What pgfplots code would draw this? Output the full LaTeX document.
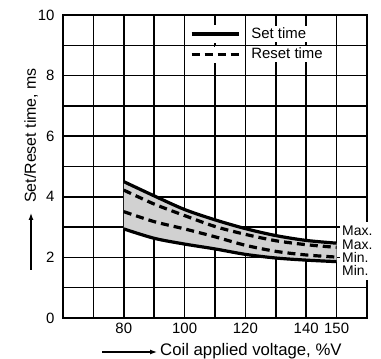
\documentclass[border=0pt]{standalone}
\usepackage{fontspec}
\setmainfont{Liberation Sans}
\usepackage{pgfplots}
\pgfplotsset{compat=1.18}
\usepgfplotslibrary{fillbetween}
\usetikzlibrary{arrows.meta}

\begin{document}
\begin{tikzpicture}[font=\fontsize{15}{18}\selectfont]
\begin{axis}[
  set layers,
  scale only axis, width=304bp, height=303bp,
  xmin=60, xmax=160, ymin=0, ymax=10,
  xtick={60,70,...,160}, xticklabels={,,80,,100,,120,,140,150,},
  ytick={0,1,...,10}, yticklabels={0,,2,,4,,6,,8,,10},
  major tick length=0pt,
  grid=major, major grid style={black, line width=1.5bp},
  axis line style={line width=2bp},
  /pgf/number format/assume math mode=true,
  tick label style={font=\fontsize{15}{18}\selectfont},
  xtick style={draw=none}, ytick style={draw=none},
  xticklabel style={yshift=-1.5bp},
  yticklabel style={xshift=-5bp},
  legend cell align=left,
  legend style={draw=none, fill=none, inner sep=0pt, at={(axis cs:101.1,9.66)}, anchor=north west,
    nodes={fill=white, inner sep=1bp, text height=11bp, text depth=3bp},
    row sep=3bp, column sep=8bp, font=\fontsize{15}{18}\selectfont},
  legend image code/.code={\fill[white] (-2bp,-7bp) rectangle (49bp,7bp); \draw[#1] (0bp,0bp) -- (47bp,0bp);},
]
\addplot[name path=smax, black, line width=3.2bp, smooth] coordinates {
 (80,4.50) (90,4.03) (100,3.58) (110,3.24) (120,2.95) (130,2.72) (140,2.56) (150,2.47)};
\addlegendentry{Set time}
\addplot[black, line width=3.2bp, dash pattern=on 8bp off 5bp, smooth] coordinates {
 (80,4.22) (90,3.76) (100,3.38) (110,3.02) (120,2.76) (130,2.55) (140,2.42) (150,2.33)};
\addlegendentry{Reset time}
\addplot[name path=smin, black, line width=3.2bp, smooth, forget plot] coordinates {
 (80,2.94) (90,2.63) (100,2.44) (110,2.28) (120,2.10) (130,1.98) (140,1.91) (150,1.86)};
\addplot[black, line width=3.2bp, dash pattern=on 8bp off 5bp, smooth, forget plot] coordinates {
 (80,3.51) (90,3.18) (100,2.94) (110,2.68) (120,2.40) (130,2.20) (140,2.08) (150,2.01)};
\addplot[black!18, forget plot, on layer=axis background] fill between[of=smax and smin];
\end{axis}
\node[fill=white, anchor=north west, inner xsep=2bp, inner ysep=4bp, align=left, font=\fontsize{14}{13.3}\selectfont] at (277bp,96bp) {Max.\\Max.\\Min.\\Min.};
\draw[-{Latex[length=7bp,width=5bp]}, line width=1.2bp] (-32bp,48bp) -- (-32bp,105bp);
\node[rotate=90, anchor=west, inner sep=0pt, font=\fontsize{16}{19}\selectfont] at (-32bp,115bp) {Set/Reset time, ms};
\draw[-{Latex[length=7bp,width=5bp]}, line width=1.2bp] (39bp,-34bp) -- (94bp,-34bp);
\node[anchor=base west, inner sep=0pt, font=\fontsize{16.8}{19}\selectfont] at (97bp,-37bp) {Coil applied voltage, \%V};
\pgfresetboundingbox
\path (-63bp,-41bp) rectangle (318bp,318bp);
\end{tikzpicture}
\end{document}
